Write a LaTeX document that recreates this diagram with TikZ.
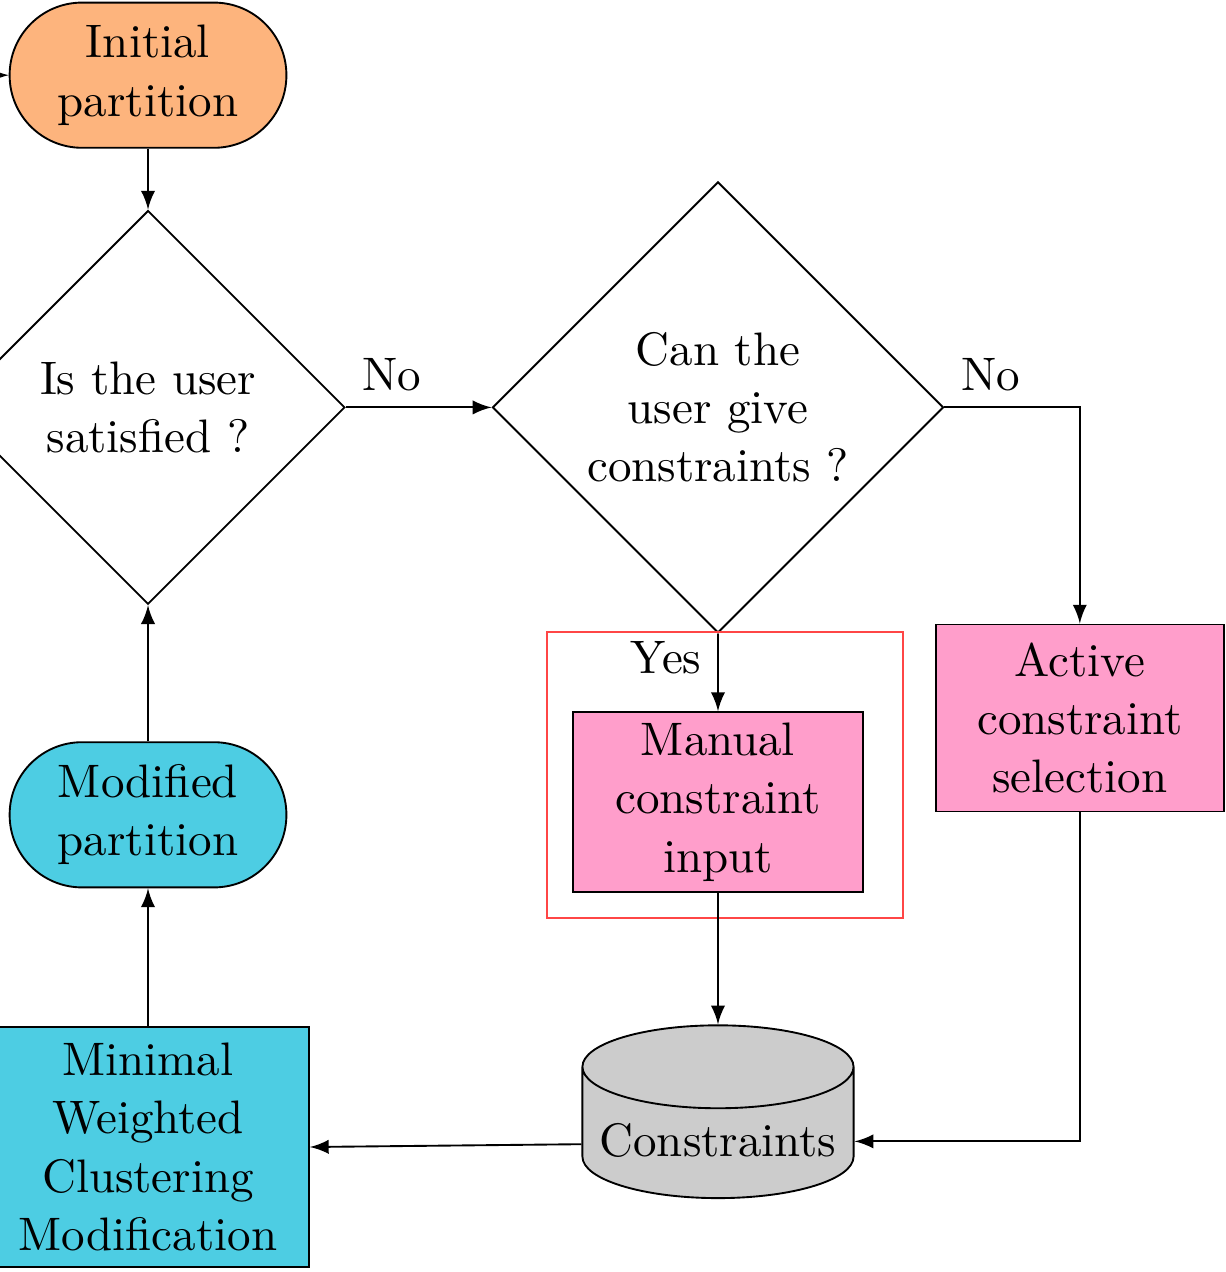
\documentclass[tikz,border=0pt]{standalone}
\usepackage{amsmath}
\usepackage[dvipsnames]{xcolor}
\usepackage{tikz}
\usetikzlibrary{arrows}
\usetikzlibrary{shapes.geometric}
\definecolor{partorange}{RGB}{253,180,125}
\definecolor{steppink}{RGB}{255,158,203}
\definecolor{stepcyan}{RGB}{77,205,227}
\definecolor{storegray}{RGB}{204,204,204}
\definecolor{markred}{RGB}{255,70,70}

\begin{document}
\begin{tikzpicture}[>=latex,
  every node/.style={font=\fontsize{10pt}{12.4pt}\selectfont, align=center},
  partbox/.style={shape = rectangle, rounded corners=15.4pt, minimum width=58.9pt, minimum height = 30.9pt, draw=black},
  question/.style={shape = diamond, aspect=1, inner sep=0pt, draw=black},
  actbox/.style={shape = rectangle, inner sep=0pt, draw=black},
  flow/.style={->, thin, draw=black}]
\useasboundingbox (0pt,0pt) rectangle (260.9pt,-270.7pt);
% nodes
\node[partbox, fill=partorange] (init) at (31.5pt,-16.0pt) {Initial\\partition};
\node[question, minimum size=83.8pt] (satisfied) at (31.5pt,-86.7pt) {Is the user\\satisfied ?};
\node[question, minimum size=96.0pt] (cangive) at (152.8pt,-86.7pt) {Can the\\user give\\constraints ?};
\node[actbox, minimum width=61.3pt, minimum height = 39.8pt, fill=steppink] (active) at (229.8pt,-152.8pt) {Active\\constraint\\selection};
\node[actbox, minimum width=61.9pt, minimum height = 38.3pt, fill=steppink] (manual) at (152.8pt,-170.7pt) {Manual\\constraint\\input};
\node[shape = cylinder, shape border rotate=90, aspect=0.35, minimum width=57.7pt, minimum height = 35.7pt, inner sep=0pt, text height=10.1pt, text depth=-0.9pt, draw=black, fill=storegray] (store) at (152.8pt,-241.1pt) {Constraints};
\node[actbox, minimum width=68.5pt, minimum height = 51.1pt, fill=stepcyan] (mwcm) at (31.5pt,-244.1pt) {Minimal\\Weighted\\Clustering\\Modification};
\node[partbox, fill=stepcyan] (modified) at (31.5pt,-173.4pt) {Modified\\partition};
\draw[thin, draw=markred] (116.4pt,-134.5pt) rectangle (192.2pt,-195.4pt);
% connectors
\coordinate (entry) at (-12pt,-16.0pt);
\draw[flow] (entry) -- (init.west);
\draw[flow] (init) -- (satisfied);
\draw[flow] (satisfied.east) -- node[pos=0, above right] {No} (cangive.west);
\draw[flow] (cangive.east) -| node[pos=0, above right] {No} (active.north);
\draw[flow] (cangive.south) -- node[pos=0, below left, yshift=2pt] {Yes} (manual.north);
\draw[flow] (manual.south) -- (store.north);
\draw[flow] (active.south) |- ([yshift=-1.8pt]store.east);
\draw[flow] ([yshift=-2.4pt]store.west) -- (mwcm.east);
\draw[flow] (mwcm.north) -- (modified.south);
\draw[flow] (modified.north) -- (satisfied.south);
\end{tikzpicture}
\end{document}
